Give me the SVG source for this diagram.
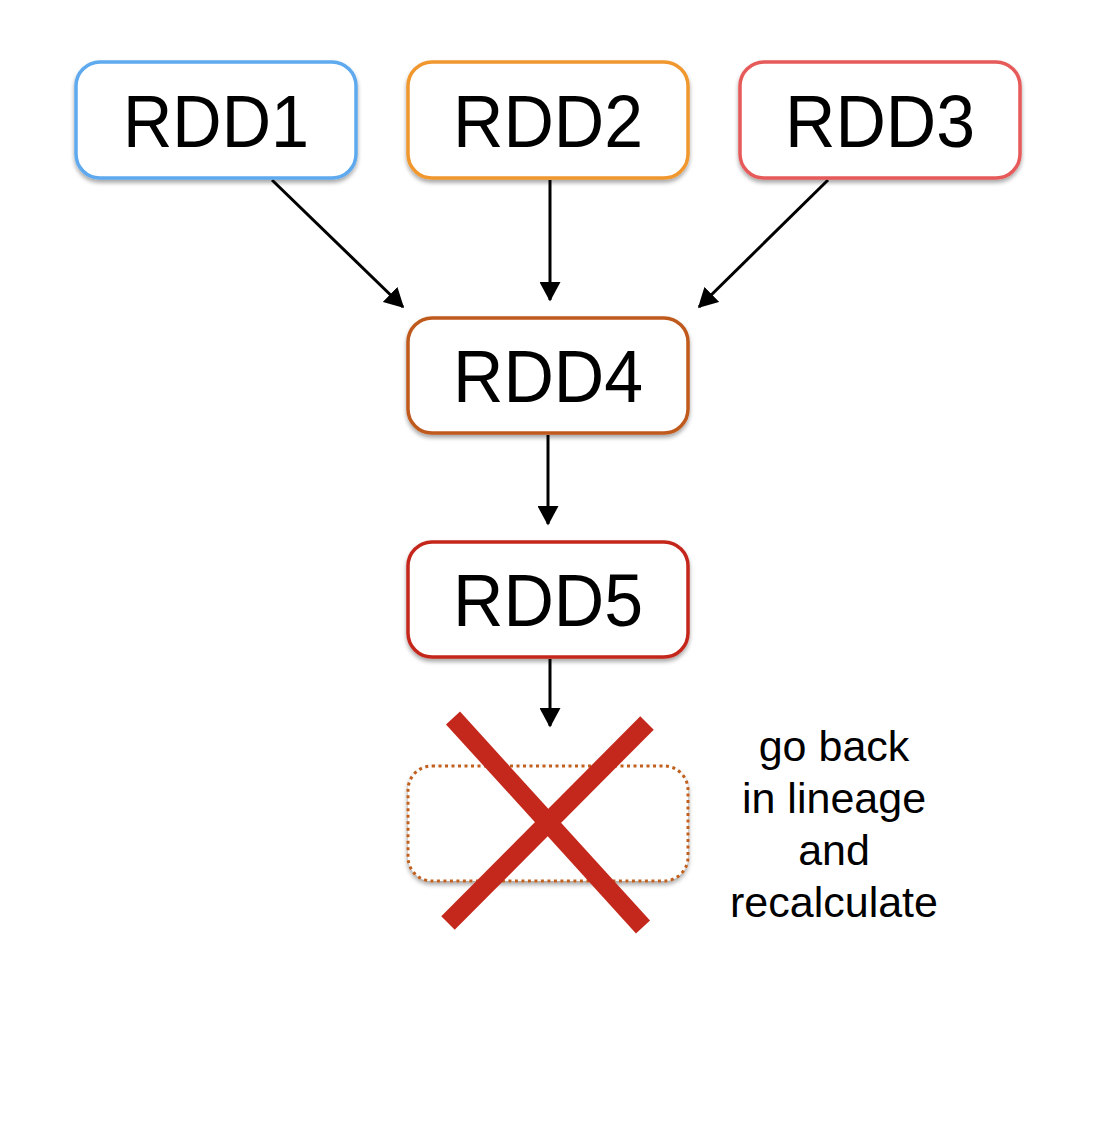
<svg xmlns="http://www.w3.org/2000/svg" width="1102" height="1134" viewBox="0 0 1102 1134">
<style>
.box{fill:#fff;stroke-width:3.5;filter:url(#sh)}
.lbl{font-family:"Liberation Sans",Arial,sans-serif;font-size:74px;fill:#000;text-anchor:middle}
.note{font-family:"Liberation Sans",Arial,sans-serif;font-size:43px;fill:#000;text-anchor:middle}
.conn{stroke:#000;stroke-width:3;fill:none;marker-end:url(#ah)}
</style>
<defs>
<filter id="sh" x="-10%" y="-10%" width="120%" height="130%">
<feDropShadow dx="0" dy="3" stdDeviation="2" flood-color="#000" flood-opacity="0.35"/>
</filter>
<marker id="ah" markerWidth="7" markerHeight="7" refX="6" refY="3.5" orient="auto" markerUnits="strokeWidth">
<path d="M0,0 L6.5,3.5 L0,7 Z" fill="#000"/>
</marker>
</defs>
<rect width="1102" height="1134" fill="#fff"/>
<g id="connectors">
<line class="conn" x1="272" y1="180" x2="403" y2="307"/>
<line class="conn" x1="550" y1="180" x2="550" y2="300"/>
<line class="conn" x1="828" y1="180" x2="699" y2="307"/>
<line class="conn" x1="548" y1="435" x2="548" y2="524"/>
<line class="conn" x1="550" y1="659" x2="550" y2="726"/>
</g>
<g id="rdd1"><rect class="box" x="76" y="62" width="280" height="116" rx="24" stroke="#5EA9EE"/><text class="lbl" x="216" y="147" textLength="186" lengthAdjust="spacingAndGlyphs">RDD1</text></g>
<g id="rdd2"><rect class="box" x="408" y="62" width="280" height="116" rx="24" stroke="#F0972F"/><text class="lbl" x="548" y="147" textLength="190" lengthAdjust="spacingAndGlyphs">RDD2</text></g>
<g id="rdd3"><rect class="box" x="740" y="62" width="280" height="116" rx="24" stroke="#E65A5A"/><text class="lbl" x="880" y="147" textLength="190" lengthAdjust="spacingAndGlyphs">RDD3</text></g>
<g id="rdd4"><rect class="box" x="408" y="318" width="280" height="115" rx="24" stroke="#BF5A1F"/><text class="lbl" x="548" y="402" textLength="190" lengthAdjust="spacingAndGlyphs">RDD4</text></g>
<g id="rdd5"><rect class="box" x="408" y="542" width="280" height="115" rx="24" stroke="#C4281C"/><text class="lbl" x="548" y="626" textLength="190" lengthAdjust="spacingAndGlyphs">RDD5</text></g>
<g id="lost">
<rect x="408" y="766" width="280" height="115" rx="24" fill="#fff" stroke="#C0601F" stroke-width="3" stroke-dasharray="3 3.5" filter="url(#sh)"/>
<line x1="453" y1="718" x2="643" y2="927" stroke="#C4281C" stroke-width="19"/>
<line x1="647" y1="723" x2="448" y2="923" stroke="#C4281C" stroke-width="19"/>
</g>
<g id="note">
<text class="note" x="834" y="761">go back</text>
<text class="note" x="834" y="813">in lineage</text>
<text class="note" x="834" y="865">and</text>
<text class="note" x="834" y="917">recalculate</text>
</g>
</svg>
